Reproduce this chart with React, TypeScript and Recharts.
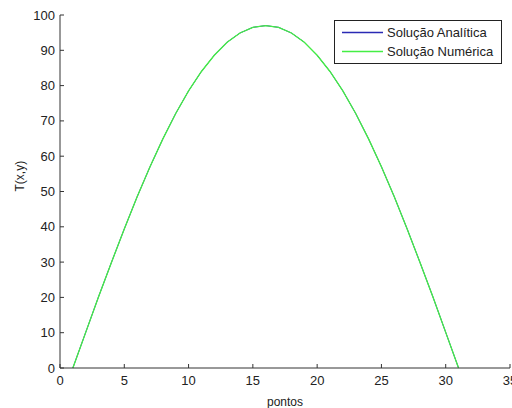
import React from 'react';
import { LineChart, Line, XAxis, YAxis, Legend } from 'recharts';

// points 1..31 (both curves lie on top of each other)
const pontos = [
  1, 2, 3, 4, 5, 6, 7, 8, 9, 10, 11, 12, 13, 14, 15, 16,
  17, 18, 19, 20, 21, 22, 23, 24, 25, 26, 27, 28, 29, 30, 31,
];
const analitica = [
  0, 10.1, 20.2, 29.9, 39.4, 48.5, 57.0, 64.9, 72.1, 78.5, 84.0, 88.6, 92.3, 94.9, 96.5, 97.0,
  96.5, 94.9, 92.3, 88.6, 84.0, 78.5, 72.1, 64.9, 57.0, 48.5, 39.4, 29.9, 20.2, 10.1, 0,
];
const numerica = [
  0, 10.1, 20.2, 29.9, 39.4, 48.5, 57.0, 64.9, 72.1, 78.5, 84.0, 88.6, 92.3, 94.9, 96.5, 97.0,
  96.5, 94.9, 92.3, 88.6, 84.0, 78.5, 72.1, 64.9, 57.0, 48.5, 39.4, 29.9, 20.2, 10.1, 0,
];
const xTicks = [0, 5, 10, 15, 20, 25, 30, 35];
const yTicks = [0, 10, 20, 30, 40, 50, 60, 70, 80, 90, 100];

const FONT = '"Liberation Sans", Arial, sans-serif';
const AXIS = '#333';

const data = pontos.map((p, i) => ({ p, a: analitica[i], n: numerica[i] }));

function XTick({ x, y, payload }: any) {
  return (
    <g>
      <line x1={x} y1={y} x2={x} y2={y - 4} stroke={AXIS} />
      <text x={x} y={y + 17} textAnchor="middle" fontSize={13} fill="#222" fontFamily={FONT}>
        {payload.value}
      </text>
    </g>
  );
}

function YTick({ x, y, payload }: any) {
  return (
    <g>
      <line x1={x} y1={y} x2={x + 4} y2={y} stroke={AXIS} />
      <text x={x - 5} y={y + 4.5} textAnchor="end" fontSize={13} fill="#222" fontFamily={FONT}>
        {payload.value}
      </text>
    </g>
  );
}

function LegendBox({ payload }: any) {
  return (
    <div
      style={{
        border: '1px solid #222',
        background: '#fff',
        padding: '2px 6px 2px 7px',
        fontFamily: FONT,
        fontSize: 13,
        color: '#222',
        lineHeight: '19px',
        boxSizing: 'border-box',
      }}
    >
      {payload.map((e: any) => (
        <div key={e.value} style={{ display: 'flex', alignItems: 'center' }}>
          <svg width={45} height={19} style={{ display: 'block' }}>
            <line x1={0} y1={9.5} x2={41} y2={9.5} stroke={e.color} strokeWidth={1.3} />
          </svg>
          <span>{e.value}</span>
        </div>
      ))}
    </div>
  );
}

export default function App() {
  return (
    <div style={{ position: 'absolute', left: 0, top: 0, width: 512, height: 408, background: '#fff' }}>
      <LineChart width={512} height={408} data={data} margin={{ top: 15, right: 2, left: 0, bottom: 0 }}>
        <XAxis
          dataKey="p"
          type="number"
          domain={[0, 35]}
          ticks={xTicks}
          interval={0}
          height={40}
          stroke={AXIS}
          tickLine={false}
          tickSize={0}
          tickMargin={0}
          tick={<XTick />}
          label={{ value: 'pontos', position: 'insideBottom', offset: 2, fontSize: 12, fill: '#222', fontFamily: FONT }}
        />
        <YAxis
          type="number"
          domain={[0, 100]}
          ticks={yTicks}
          interval={0}
          width={60}
          stroke={AXIS}
          tickLine={false}
          tickSize={0}
          tickMargin={0}
          tick={<YTick />}
          label={{ value: 'T(x,y)', angle: -90, position: 'insideLeft', offset: 20, fontSize: 12, fill: '#222', fontFamily: FONT }}
        />
        <Legend
          layout="vertical"
          align="center"
          verticalAlign="middle"
          content={<LegendBox />}
          wrapperStyle={{ position: 'absolute', left: 334, top: 20, width: 168 }}
        />
        <Line name="Solução Analítica" dataKey="a" stroke="#2a2ab4" strokeWidth={1} dot={false} isAnimationActive={false} />
        <Line name="Solução Numérica" dataKey="n" stroke="#44ee44" strokeWidth={1.3} dot={false} isAnimationActive={false} />
      </LineChart>
    </div>
  );
}
